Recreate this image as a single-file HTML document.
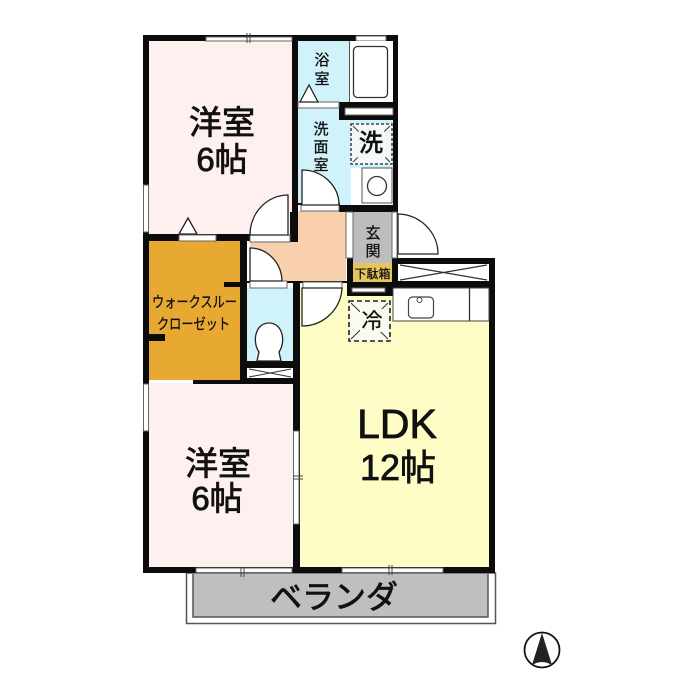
<!DOCTYPE html>
<html><head><meta charset="utf-8"><style>
html,body{margin:0;padding:0;background:#fff;width:700px;height:700px;overflow:hidden}
svg{display:block;filter:blur(.35px)}
text{font-family:"Liberation Sans","Noto Sans CJK JP",sans-serif;fill:#111;stroke:#111;stroke-width:.3px;text-anchor:middle}
text.big{stroke-width:.8px}
</style></head><body>
<svg width="700" height="700" viewBox="0 0 700 700" xmlns="http://www.w3.org/2000/svg">
<rect width="700" height="700" fill="#fff"/>
<!-- room fills -->
<rect x="149" y="41" width="143" height="194" fill="#fdf0ee"/>
<rect x="149" y="241" width="91" height="139" fill="#e8a933"/>
<rect x="149" y="383" width="144" height="185" fill="#fdf0ee"/>
<rect x="299" y="287" width="191" height="281" fill="#fefdc6"/>
<rect x="298" y="41" width="51" height="62" fill="#d0f2fa"/>
<rect x="298" y="108" width="53" height="97" fill="#d0f2fa"/>
<rect x="351" y="108" width="42" height="60" fill="#d0f2fa"/>
<rect x="247" y="288" width="46" height="74" fill="#d0f2fa"/>
<path d="M298 211H346V282H250V242H298Z" fill="#f8d0ae"/>
<rect x="353" y="212" width="39" height="52" fill="#bdbdbd"/>
<rect x="353" y="263" width="39" height="19" fill="#e6c65c"/>
<rect x="193" y="574" width="295" height="43" fill="#bfbfbf"/>

<!-- veranda -->
<rect x="186.500" y="573" width="309" height="50.500" fill="none" stroke="#555" stroke-width="1.500"/>
<path d="M193 574V617H488V574" fill="none" stroke="#555" stroke-width="1.500"/>

<!-- walls -->
<g fill="#0c0c0c">
<rect x="143" y="35" width="255" height="6"/>
<rect x="143" y="35" width="6" height="538"/>
<rect x="143" y="567" width="352" height="6"/>
<rect x="292" y="35" width="6" height="207"/>
<rect x="290" y="212" width="8" height="30"/>
<rect x="393" y="35" width="5" height="229"/>
<rect x="339" y="102" width="59" height="18"/>
<rect x="339" y="205" width="59" height="7"/>
<rect x="298" y="203" width="42" height="2"/>
<rect x="143" y="234" width="107" height="7"/>
<rect x="240" y="234" width="7" height="150"/>
<rect x="224" y="282" width="16" height="5"/>
<rect x="149" y="334" width="16" height="7"/>
<rect x="193" y="380" width="47" height="4"/>
<rect x="240" y="361" width="60" height="7"/>
<rect x="240" y="378" width="60" height="6"/>
<rect x="293" y="282" width="7" height="291"/>
<rect x="247" y="281" width="100" height="2"/>
<rect x="347" y="258" width="6" height="25"/>
<rect x="347" y="282" width="46" height="14"/>
<rect x="393" y="258" width="102" height="6"/>
<rect x="393" y="281" width="102" height="7"/>
<rect x="489" y="258" width="6" height="315"/>
<rect x="392" y="258" width="6" height="30"/>
</g>

<!-- windows / openings -->
<g fill="#fff" stroke="#666" stroke-width="1">
<rect x="206" y="37" width="86" height="4"/>
<rect x="356" y="36" width="30" height="5"/>
<rect x="143.500" y="185" width="5" height="47"/>
<rect x="143.500" y="384" width="5" height="47"/>
<rect x="293.500" y="431" width="5.500" height="93"/>
<rect x="196" y="568" width="96" height="4.500"/>
<rect x="342" y="568" width="101" height="4.500"/>
<rect x="179" y="235" width="37" height="6"/>
<rect x="250" y="235" width="40" height="7"/>
<rect x="250" y="281" width="37" height="7"/>
<rect x="303" y="282" width="39" height="6"/>
<rect x="298" y="102" width="41" height="6"/>
<rect x="301" y="205" width="38" height="6"/>
<rect x="346" y="212" width="7" height="46"/>
<rect x="392" y="212" width="5" height="46"/>
<rect x="345" y="108" width="48" height="7"/>
<rect x="352" y="288" width="33" height="4"/>
<rect x="149" y="380" width="44" height="3" stroke="none"/>
</g>
<path d="M250 33V43M247 33V43M244 567V577M241 567V577M392 565V575M389 565V575M293 476H303M293 479H303" stroke="#444" stroke-width="1"/>

<!-- doors -->
<g fill="#fff" stroke="#222" stroke-width="1.300">
<path d="M288 195A38 40 0 0 0 250 235H288Z"/>
<path d="M250 248A32 34 0 0 1 282 281H250Z"/>
<path d="M302 170A37 35 0 0 1 339 205H302Z"/>
<path d="M302 288H342A40 40 0 0 1 302 326Z"/>
<path d="M398 214A41 40 0 0 1 438 254H398Z"/>
<path d="M179 234L188 218L197 234Z"/>
<path d="M300 102L309 85L318 102Z"/>
</g>

<!-- bath -->
<rect x="349" y="41" width="44" height="61" fill="#fff"/>
<rect x="353.500" y="46.500" width="34" height="51" rx="4" fill="#fff" stroke="#333" stroke-width="1.300"/>
<line x1="349.500" y1="41" x2="349.500" y2="102" stroke="#555"/>

<!-- washer pan -->
<rect x="351" y="124" width="41" height="40" fill="#f4f8f8" stroke="#222" stroke-width="1.300" stroke-dasharray="3 2"/>
<path d="M353 126L390 162M390 126L353 162" stroke="#333" stroke-width="1" stroke-dasharray="8 7"/>
<rect x="361" y="130" width="22" height="24" fill="#f4f8f8"/>
<!-- wash basin -->
<rect x="362" y="168" width="30" height="35" fill="#fff" stroke="#555"/>
<circle cx="377" cy="186" r="9.500" fill="#fff" stroke="#333" stroke-width="1.300"/>

<!-- closet box by kitchen -->
<rect x="398" y="264" width="91" height="17" fill="#fff"/>
<path d="M400 265L487 280M487 265L400 280" stroke="#333" stroke-width="1.200"/>
<!-- kitchen -->
<rect x="393" y="288" width="96" height="33" fill="#fff" stroke="#444"/>
<rect x="408.500" y="297" width="25" height="21" rx="4" fill="#fff" stroke="#444" stroke-width="1.200"/>
<circle cx="419.500" cy="300" r="2.500" fill="#fff" stroke="#444"/>
<line x1="469.500" y1="288" x2="469.500" y2="321" stroke="#333" stroke-width="1.300"/>
<!-- fridge -->
<rect x="349" y="301" width="41" height="40" fill="#fafaf0" stroke="#222" stroke-width="1.600" stroke-dasharray="5 3"/>
<path d="M351 303L388 339M388 303L351 339" stroke="#333" stroke-width="1"/>
<rect x="360" y="309" width="23" height="23" fill="#fafaf0"/>

<!-- toilet -->
<path d="M259 352C252 342 255 323 269 323C283 323 286 342 279 352L281 361H257Z" fill="#fff" stroke="#222" stroke-width="1.300"/>
<!-- toilet storage -->
<rect x="247" y="368" width="46" height="10" fill="#fff"/>
<path d="M249 369L291 377M291 369L249 377" stroke="#333"/>

<!-- main labels -->
<text class="big" x="222" y="134" font-size="33">洋室</text>
<text class="big" x="222" y="171" font-size="33">6帖</text>
<text class="big" x="218" y="475" font-size="33">洋室</text>
<text class="big" x="217" y="510" font-size="33">6帖</text>
<text class="big" x="397" y="438" font-size="41">LDK</text>
<text class="big" x="398" y="480" font-size="36">12帖</text>
<text class="big" x="334" y="608" font-size="32">ベランダ</text>

<!-- small labels -->
<text x="322" y="65" font-size="15">浴</text>
<text x="322" y="84" font-size="15">室</text>
<text x="321" y="134" font-size="15">洗</text>
<text x="321" y="152" font-size="15">面</text>
<text x="321" y="170" font-size="15">室</text>
<text class="big" x="371" y="151" font-size="24">洗</text>
<text x="373" y="238" font-size="15">玄</text>
<text x="373" y="256" font-size="15">関</text>
<text x="372.500" y="278" font-size="12" textLength="36" lengthAdjust="spacingAndGlyphs">下駄箱</text>
<text x="372" y="328" font-size="21">冷</text>
<text x="194.500" y="307" font-size="15" textLength="85" lengthAdjust="spacingAndGlyphs">ウォークスルー</text>
<text x="193.500" y="329" font-size="15" textLength="73" lengthAdjust="spacingAndGlyphs">クローゼット</text>

<!-- north -->
<circle cx="542" cy="650" r="17.500" fill="#fff" stroke="#111" stroke-width="1.800"/>
<path d="M542 633L552 665Q542 659 532 665Z" fill="#222"/>
</svg>
</body></html>
